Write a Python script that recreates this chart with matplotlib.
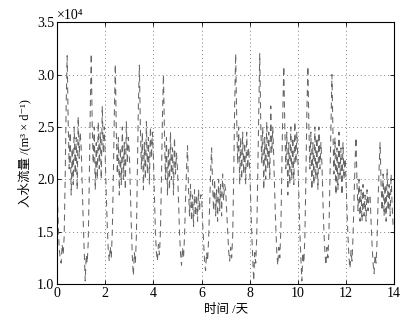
# Inflow over two weeks, hourly samples (values in 1e4 m3/d)
import numpy as np
import matplotlib
matplotlib.use('Agg')
import matplotlib.pyplot as plt

# one list per day, 24 hourly values
day0 = [1.95, 1.6, 1.35, 1.25, 1.2, 1.38, 1.28, 1.45, 2.0, 2.7, 3.18, 2.55, 2.1, 2.45, 1.85, 2.3, 1.95, 2.5, 2.05, 2.4, 1.9, 2.6, 2.2, 2.45]
day1 = [2.3, 1.95, 1.6, 1.3, 1.03, 1.28, 1.2, 1.4, 1.95, 2.65, 3.2, 2.5, 2.15, 2.5, 1.9, 2.35, 2.0, 2.55, 2.1, 2.45, 2.0, 2.7, 2.25, 2.5]
day2 = [2.2, 1.85, 1.55, 1.32, 1.22, 1.36, 1.25, 1.5, 2.0, 2.6, 3.1, 2.45, 2.05, 2.4, 1.85, 2.3, 1.95, 2.5, 2.0, 2.35, 1.9, 2.55, 2.15, 2.4]
day3 = [2.25, 1.9, 1.55, 1.25, 1.08, 1.3, 1.2, 1.45, 2.05, 2.7, 3.09, 2.5, 2.1, 2.45, 1.9, 2.35, 2.0, 2.55, 2.05, 2.4, 1.95, 2.5, 2.2, 2.45]
day4 = [2.2, 1.85, 1.5, 1.3, 1.22, 1.38, 1.28, 1.5, 2.0, 2.6, 3.0, 2.45, 2.0, 2.4, 1.85, 2.3, 1.9, 2.45, 2.0, 2.3, 1.85, 2.4, 2.05, 2.25]
day5 = [2.1, 1.8, 1.5, 1.3, 1.18, 1.35, 1.25, 1.45, 1.8, 2.1, 2.32, 1.9, 1.65, 1.95, 1.6, 1.85, 1.55, 1.9, 1.65, 1.85, 1.6, 1.9, 1.7, 1.85]
day6 = [1.85, 1.6, 1.4, 1.22, 1.13, 1.3, 1.22, 1.42, 1.75, 2.05, 2.3, 1.95, 1.7, 2.0, 1.65, 1.9, 1.6, 2.0, 1.7, 1.95, 1.65, 2.05, 1.8, 1.95]
day7 = [1.9, 1.7, 1.5, 1.32, 1.22, 1.35, 1.25, 1.45, 2.0, 2.7, 3.2, 2.6, 2.15, 2.5, 1.95, 2.4, 2.0, 2.45, 2.05, 2.35, 1.95, 2.45, 2.1, 2.3]
day8 = [2.1, 1.8, 1.5, 1.25, 1.03, 1.3, 1.2, 1.45, 2.05, 2.7, 3.2, 2.55, 2.15, 2.5, 1.9, 2.4, 2.0, 2.55, 2.1, 2.45, 2.0, 2.7, 2.25, 2.5]
day9 = [2.2, 1.85, 1.55, 1.3, 1.18, 1.35, 1.25, 1.5, 2.05, 2.65, 3.08, 2.5, 2.1, 2.45, 1.85, 2.35, 1.95, 2.5, 2.0, 2.4, 1.95, 2.55, 2.15, 2.45]
day10 = [2.2, 1.85, 1.5, 1.25, 1.03, 1.3, 1.2, 1.45, 2.0, 2.65, 3.08, 2.5, 2.1, 2.45, 1.9, 2.35, 1.95, 2.5, 2.0, 2.4, 1.9, 2.5, 2.1, 2.35]
day11 = [2.15, 1.8, 1.5, 1.3, 1.18, 1.35, 1.25, 1.5, 2.0, 2.55, 3.0, 2.45, 2.05, 2.4, 1.85, 2.3, 1.9, 2.45, 2.0, 2.3, 1.85, 2.35, 2.0, 2.2]
day12 = [2.0, 1.7, 1.45, 1.25, 1.15, 1.32, 1.22, 1.45, 1.8, 2.15, 2.4, 1.95, 1.7, 2.0, 1.6, 1.9, 1.6, 1.95, 1.65, 1.85, 1.6, 1.9, 1.7, 1.85]
day13 = [1.85, 1.6, 1.38, 1.2, 1.1, 1.28, 1.2, 1.42, 1.8, 2.1, 2.35, 1.95, 1.7, 2.05, 1.65, 1.95, 1.6, 2.1, 1.7, 1.95, 1.65, 2.05, 1.75, 1.55]

days = [day0, day1, day2, day3, day4, day5, day6,
        day7, day8, day9, day10, day11, day12, day13]
inflow = np.concatenate(days)
t = np.arange(len(inflow)) / 24.0   # hours -> days

xticks = [0, 2, 4, 6, 8, 10, 12, 14]
yticks = [1.0, 1.5, 2.0, 2.5, 3.0, 3.5]

plt.rcParams['font.family'] = ['Liberation Serif', 'Noto Sans CJK SC', 'DejaVu Sans']
plt.rcParams['font.size'] = 10

fig = plt.figure(figsize=(4.14, 3.21), dpi=100)
ax = fig.add_axes([0.138, 0.115, 0.814, 0.816])

line, = ax.plot(t, inflow, color='0.4', lw=0.75, ls='--')
line.set_dashes((6, 4.5))

ax.set_xlim(0, 14)
ax.set_ylim(1.0, 3.5)
ax.set_xticks(xticks)
ax.set_yticks(yticks)
ax.set_xticklabels([str(v) for v in xticks])
ax.set_yticklabels([f'{v:.1f}' for v in yticks])
ax.tick_params(direction='in', top=True, right=True, length=3, width=0.6, pad=2)
ax.grid(True, ls=(0, (1, 3)), color='0.5', lw=0.7)
for s in ax.spines.values():
    s.set_linewidth(0.8)

ax.text(0.0, 1.0, '×10⁴', transform=ax.transAxes, ha='left', va='bottom', fontsize=10)
ax.set_xlabel('时间 /天', fontsize=9, labelpad=3)
ax.set_ylabel('入水流量 /(m³ × d⁻¹)', fontsize=9, labelpad=4)

fig.savefig('out.png', dpi=100)
